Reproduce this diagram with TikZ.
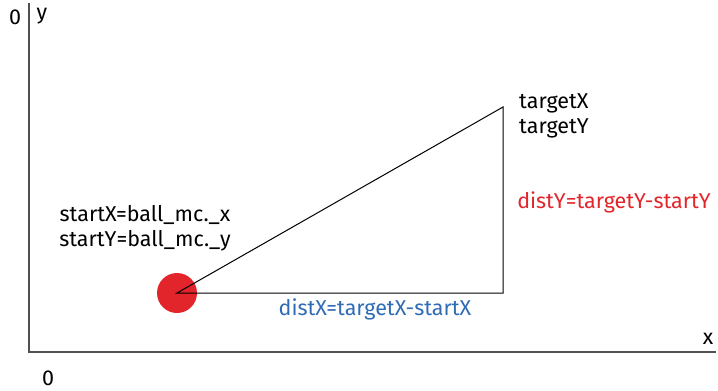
\documentclass[tikz,border=0pt]{standalone}
\usepackage{fontspec}
\setmainfont{Fira Sans}
\definecolor{ballred}{HTML}{E2252A}
\definecolor{distblue}{HTML}{2F6CB5}
\definecolor{axisgray}{HTML}{505050}
\begin{document}
\begin{tikzpicture}[x=1pt,y=-1pt,
  lbl/.style={inner sep=0pt,font=\fontsize{21.5}{24.5}\selectfont},
  axis/.style={draw=axisgray,line width=1.4pt},
  tri/.style={draw=black,line width=1pt}]
\useasboundingbox (0,0) rectangle (718,391);
% axes
\coordinate (ytop) at (29,3);
\coordinate (origin) at (29,352);
\coordinate (xend) at (716,352);
\draw[axis] (ytop) -- (origin) -- (xend);
\node[lbl] (zeroy) at (15,17) {0};
\node[lbl] (ylab) at (42,16) {y};
\node[lbl] (xlab) at (708,339) {x};
\node[lbl] (zerox) at (48,378) {0};
% ball and triangle
\coordinate (start) at (177,293);
\coordinate (corner) at (503,293);
\coordinate (target) at (503,107);
\fill[ballred] (start) circle (20);
\draw[tri] (start) -- (corner) -- (target) -- cycle;
% labels
\node[lbl,anchor=west,align=left] (tlab) at (519,116) {targetX\\targetY};
\node[lbl,align=center] (slab) at (145,228) {startX=ball\_mc.\_x\\startY=ball\_mc.\_y};
\node[lbl,text=ballred] (dy) at (614,202) {distY=targetY-startY};
\node[lbl,text=distblue] (dx) at (375,309) {distX=targetX-startX};
\end{tikzpicture}
\end{document}
